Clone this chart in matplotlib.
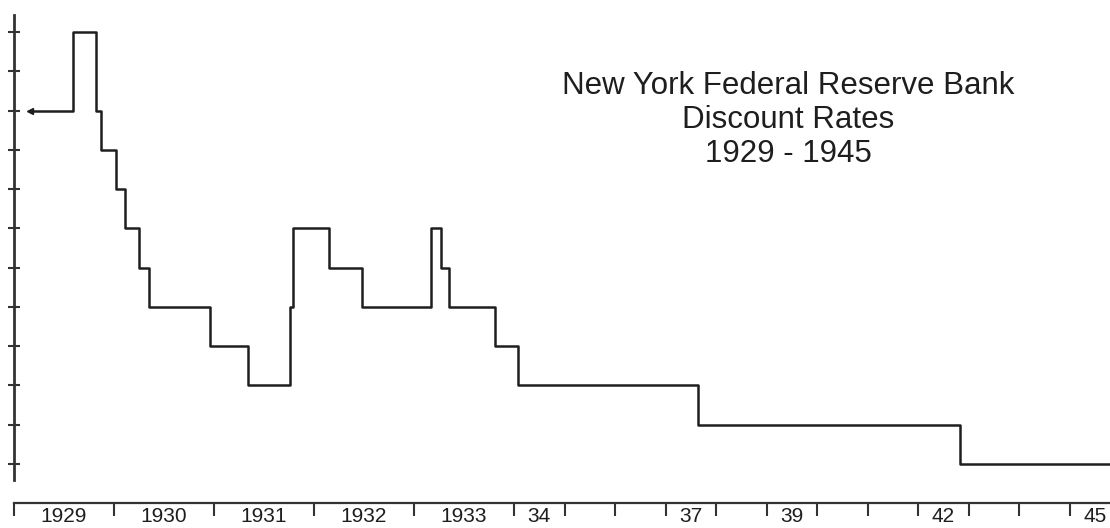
import numpy as np
import matplotlib
matplotlib.use("Agg")
import matplotlib.pyplot as plt

# dates (decimal years) when the rate changed, and the new rate in percent
change_years = [1929.16, 1929.59, 1929.82, 1929.87, 1930.02, 1930.11, 1930.25,
                1930.35, 1930.96, 1931.34, 1931.76, 1931.79, 1932.15, 1932.48,
                1933.17, 1933.27, 1933.35, 1933.81, 1934.08, 1937.64, 1942.83]
rates = [5.0, 6.0, 5.0, 4.5, 4.0, 3.5, 3.0,
         2.5, 2.0, 1.5, 2.5, 3.5, 3.0, 2.5,
         3.5, 3.0, 2.5, 2.0, 1.5, 1.0, 0.5]
end_year = 1945.83

rate_ticks = [0.5, 1.0, 1.5, 2.0, 2.5, 3.0, 3.5, 4.0, 4.5, 5.0, 5.5, 6.0]
year_ticks = list(range(1929, 1946))
label_years = [1929, 1930, 1931, 1932, 1933, 1934, 1937, 1939, 1942, 1945]
label_texts = ["1929", "1930", "1931", "1932", "1933", "34", "37", "39", "42", "45"]

title = "New York Federal Reserve Bank\nDiscount Rates\n1929 - 1945"

plt.rcParams['font.family'] = ['Liberation Sans', 'DejaVu Sans']
ink = "#1e1e1e"


# years after 1933 are drawn at about half width
def fwd(y):
    y = np.asarray(y, dtype=float)
    return np.where(y < 1934, y - 1929, 5 + (y - 1934) * 0.505)


def inv(u):
    u = np.asarray(u, dtype=float)
    return np.where(u < 5, u + 1929, 1934 + (u - 5) / 0.505)


W, H = 1110, 528
fig = plt.figure(figsize=(W / 100, H / 100), dpi=100)

ax = fig.add_axes([14 / W, (H - 480) / H, 1096 / W, 465 / H])
ax.set_xscale('function', functions=(fwd, inv))
ax.set_xlim(1929, 1945.8)
ax.set_ylim(0.296, 6.216)

xs = change_years + [end_year]
ys = rates + [rates[-1]]
ax.step(xs, ys, where='post', color=ink, lw=1.8)
ax.plot([change_years[0]], [rates[0]], marker='<', ms=4, color=ink)

for s in ['top', 'right', 'bottom']:
    ax.spines[s].set_visible(False)
ax.spines['left'].set_color("#333333")
ax.spines['left'].set_linewidth(2)
ax.set_yticks(rate_ticks)
ax.set_yticklabels([])
ax.tick_params(axis='y', direction='inout', length=9, width=1.5, color="#333333")
ax.set_xticks([])

ax.text(788 / W, 1 - 120 / H, title, transform=fig.transFigure, ha='center',
        va='center', fontsize=22.5, color=ink, linespacing=1.18)

# separate year axis at the bottom
bx = fig.add_axes([14 / W, (H - 503) / H, 1096 / W, 0.0001])
bx.set_xscale('function', functions=(fwd, inv))
bx.set_xlim(1929, 1945.8)
for s in ['top', 'right', 'left']:
    bx.spines[s].set_visible(False)
bx.spines['bottom'].set_color("#333333")
bx.spines['bottom'].set_linewidth(1.6)
bx.set_yticks([])
bx.set_xticks(year_ticks)
bx.set_xticklabels([])
bx.tick_params(axis='x', which='major', direction='out', length=9, width=1.5,
               color="#333333")
mids = [y + 0.5 for y in label_years]
bx.set_xticks(mids, minor=True)
bx.set_xticklabels(label_texts, minor=True)
bx.tick_params(axis='x', which='minor', length=0, pad=3, labelsize=15,
               labelcolor=ink)

fig.savefig("out.png", dpi=100)
